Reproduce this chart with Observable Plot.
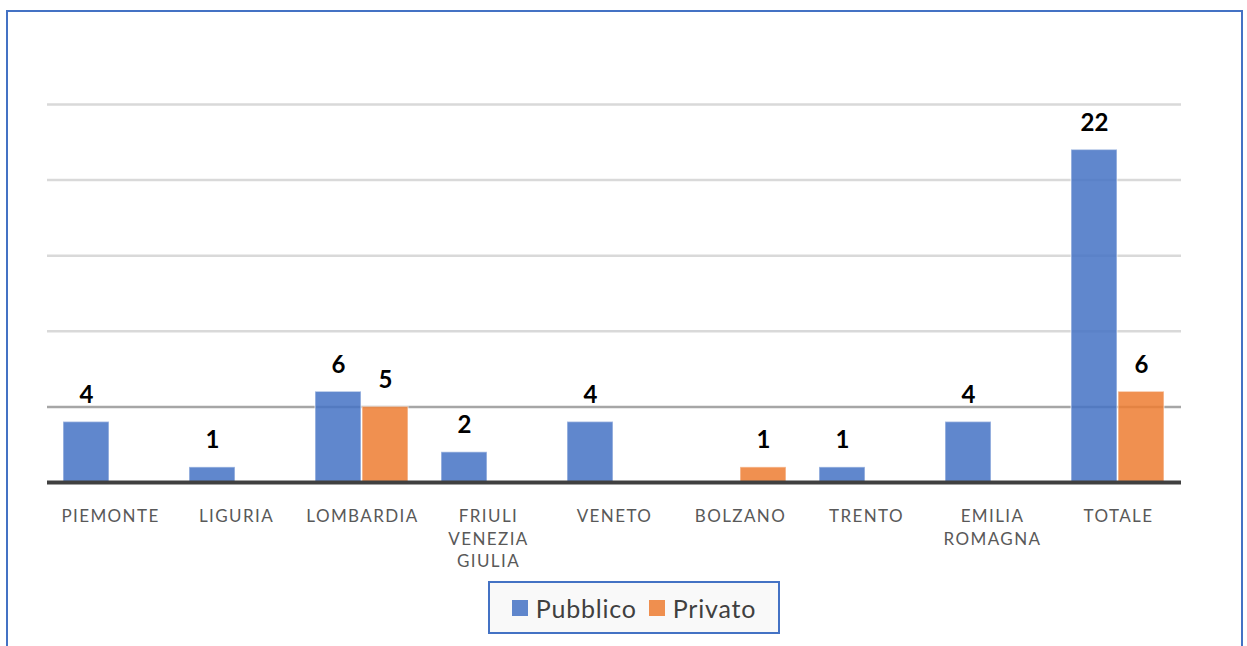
<!DOCTYPE html>
<html>
<head>
<meta charset="utf-8">
<script src="https://cdn.jsdelivr.net/npm/d3@7"></script>
<script src="https://cdn.jsdelivr.net/npm/@observablehq/plot@0.6"></script>
<style>
  html, body { margin: 0; padding: 0; background: #fff; width: 1247px; height: 646px; overflow: hidden; font-family: Lato, sans-serif; }
  #frame { position: absolute; left: 6px; top: 10px; width: 1237px; height: 700px; border: 2px solid #4472C4; box-sizing: border-box; }
  #chart { position: absolute; left: 0; top: 0; }
  #chart g[aria-label="fx-axis tick label"] text { letter-spacing: 1.4px; }
  #legend { position: absolute; left: 488px; top: 581px; width: 292px; height: 53px; box-sizing: border-box;
    border: 2px solid #4472C4; background: #f9f9f9; display: flex; align-items: center; justify-content: center;
    font-family: Lato, sans-serif; font-size: 25px; color: #404040; letter-spacing: 0.8px; }
  .item { display: flex; align-items: center; margin: 0 6px; }
  .sw { width: 16px; height: 16px; margin-right: 8px; }
</style>
</head>
<body>
<div id="frame"></div>
<div id="chart"></div>
<div id="legend"></div>
<script>
const regions = ["PIEMONTE","LIGURIA","LOMBARDIA","FRIULI VENEZIA GIULIA","VENETO","BOLZANO","TRENTO","EMILIA ROMAGNA","TOTALE"];
const tickLabels = ["PIEMONTE","LIGURIA","LOMBARDIA","FRIULI\nVENEZIA\nGIULIA","VENETO","BOLZANO","TRENTO","EMILIA\nROMAGNA","TOTALE"];
const series = ["Pubblico","Privato"];
const pubblico = [4,1,6,2,4,null,1,4,22];
const privato = [null,null,5,null,null,1,null,null,6];
const colors = ["#4472C4","#ED7D31"];
const yTicks = [5,10,15,20,25];

const data = regions.flatMap((r,i) => [
  {region: r, series: "Pubblico", value: pubblico[i]},
  {region: r, series: "Privato", value: privato[i]}
]).filter(d => d.value != null);

const chart = Plot.plot({
  width: 1247, height: 580,
  marginLeft: 46, marginRight: 65, marginTop: 104, marginBottom: 98,
  style: {fontFamily: "Lato, sans-serif", background: "transparent", color: "#000"},
  fx: {domain: regions, padding: 0, label: null, axis: null},
  x: {domain: series, paddingInner: 0.02, paddingOuter: 0.35, axis: null},
  y: {domain: [0, 25], axis: null},
  color: {domain: series, range: colors},
  marks: [
    Plot.ruleY(yTicks.filter(t => t !== 5), {stroke: "#d9d9d9", strokeWidth: 2.5}),
    Plot.ruleY(yTicks.filter(t => t === 5), {stroke: "#a6a6a6", strokeWidth: 2.5}),
    Plot.barY(data, {fx: "region", x: "series", y: "value", fill: "series", fillOpacity: 0.85, stroke: "white", strokeOpacity: 0.45, strokeWidth: 1.5}),
    Plot.ruleY([0], {stroke: "#404040", strokeWidth: 4}),
    Plot.text(data, {fx: "region", x: "series", y: "value", text: d => String(d.value), dy: -19, lineAnchor: "bottom", fontSize: 24, fontWeight: "bold", fill: "#000"}),
    Plot.axisFx({anchor: "bottom", tickSize: 0, tickPadding: 24, fontSize: 17, lineHeight: 1.32, fill: "#595959", label: null,
      tickFormat: d => tickLabels[regions.indexOf(d)]})
  ]
});
document.getElementById("chart").appendChild(chart);

const legend = document.getElementById("legend");
series.forEach((s, i) => {
  const it = document.createElement("div");
  it.className = "item";
  it.innerHTML = `<div class="sw" style="background:${colors[i]};opacity:0.85"></div><span>${s}</span>`;
  legend.appendChild(it);
});
</script>
</body>
</html>
